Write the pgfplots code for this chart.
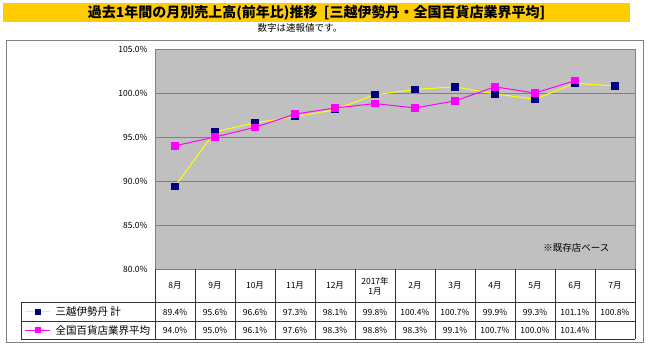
\documentclass[border=0pt]{standalone}
\usepackage{pgfplots}
\pgfplotsset{compat=1.18}
\usepackage{fontspec}
\setmainfont{Noto Sans CJK JP}
\definecolor{titlebar}{HTML}{FFCC00}
\definecolor{plotbg}{HTML}{C0C0C0}
\definecolor{gridc}{HTML}{808080}
\definecolor{navyc}{HTML}{000080}
\definecolor{yel}{HTML}{FFFF00}
\definecolor{mag}{HTML}{FF00FF}
\begin{document}
\begin{tikzpicture}[x=1pt,y=1pt]
\useasboundingbox (0,0) rectangle (650,351);
\fill[titlebar] (3,329) rectangle (630,348);
\node[font=\fontsize{14}{16}\selectfont\bfseries] at (316.5,338.5) {過去1年間の月別売上高(前年比)推移\ \ [三越伊勢丹・全国百貨店業界平均]};
\node[font=\fontsize{9.5}{11}\selectfont] at (300,323) {数字は速報値です。};
\draw[gridc, line width=1pt] (6,9) rectangle (643,310);
\begin{axis}[at={(155pt,82pt)}, anchor=south west, scale only axis,
  width=480pt, height=220pt,
  xmin=-0.5, xmax=11.5, ymin=80, ymax=105,
  xtick=\empty, ytick={80,85,90,95,100,105},
  axis background/.style={fill=plotbg},
  axis line style={gridc, line width=0.8pt},
  ymajorgrids, grid style={gridc, line width=0.8pt},
  major tick length=0pt,
  /pgf/number format/assume math mode=true,
  yticklabel={\pgfmathprintnumber[fixed,fixed zerofill,precision=1]{\tick}\%},
  yticklabel style={font=\fontsize{8.5}{10}\selectfont, xshift=-4pt},
  clip=false]
\addplot[yel, line width=1pt, mark=square*, mark size=3.2pt, mark options={navyc, fill=navyc}]
 coordinates {(0,89.4)(1,95.6)(2,96.6)(3,97.3)(4,98.1)(5,99.8)(6,100.4)(7,100.7)(8,99.9)(9,99.3)(10,101.1)(11,100.8)};
\addplot[mag, line width=1pt, mark=square*, mark size=3.2pt, mark options={mag, fill=mag}]
 coordinates {(0,94.0)(1,95.0)(2,96.1)(3,97.6)(4,98.3)(5,98.8)(6,98.3)(7,99.1)(8,100.7)(9,100.0)(10,101.4)};
\end{axis}
\node[anchor=east, font=\fontsize{9.5}{11}\selectfont] at (613,103) {※既存店ベース};
% table
\draw[black!80, line width=0.6pt] (21,48.3) -- (635,48.3);
\draw[black!80, line width=0.6pt] (21,30) -- (635,30);
\draw[black!80, line width=0.6pt] (21,11.7) -- (635,11.7);
\draw[black!80, line width=0.6pt] (21,48.3) -- (21,11.7);
\foreach \k in {0,...,12} {\draw[black!80, line width=0.6pt] (155+40*\k,82) -- (155+40*\k,11.7);}
\foreach \m [count=\i from 0] in {8月,9月,10月,11月,12月,,2月,3月,4月,5月,6月,7月}
  {\node[font=\fontsize{8.5}{10}\selectfont] at (175+40*\i,65.2) {\m};}
\node[font=\fontsize{8.5}{10}\selectfont, align=center] at (375,65.2) {2017年\\1月};
\foreach \v [count=\i from 0] in {89.4,95.6,96.6,97.3,98.1,99.8,100.4,100.7,99.9,99.3,101.1,100.8}
  {\node[font=\fontsize{8.5}{10}\selectfont] at (175+40*\i,39.1) {\v\%};}
\foreach \v [count=\i from 0] in {94.0,95.0,96.1,97.6,98.3,98.8,98.3,99.1,100.7,100.0,101.4}
  {\node[font=\fontsize{8.5}{10}\selectfont] at (175+40*\i,20.8) {\v\%};}
\draw[yel, line width=1pt] (25,39.1) -- (50,39.1);
\fill[navyc] (34.5,36.1) rectangle (40.5,42.1);
\draw[mag, line width=1pt] (25,20.8) -- (50,20.8);
\fill[mag] (34.5,17.8) rectangle (40.5,23.8);
\node[anchor=west, font=\fontsize{10.5}{12}\selectfont] at (52,39.1) {三越伊勢丹\ 計};
\node[anchor=west, font=\fontsize{10.5}{12}\selectfont] at (52,20.8) {全国百貨店業界平均};
\end{tikzpicture}
\end{document}
